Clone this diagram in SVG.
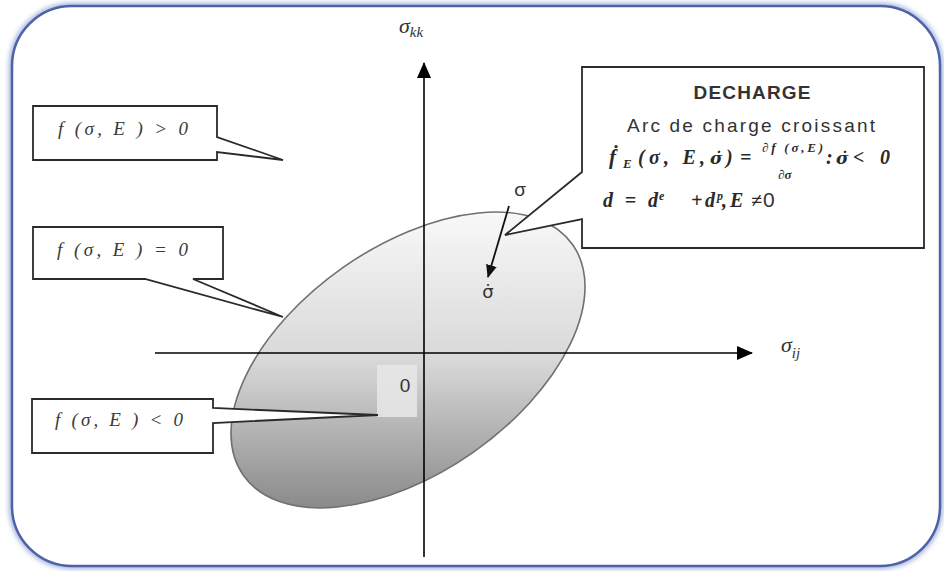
<svg xmlns="http://www.w3.org/2000/svg" width="944" height="571" viewBox="0 0 944 571">
<style>
.callout{fill:#ffffff;stroke:#2a2a2a;stroke-width:1.8;stroke-linejoin:miter}
.ct{font-family:"Liberation Serif",serif;font-style:italic;font-size:19px;fill:#3a3a3a}
.sans{font-family:"Liberation Sans",Arial,sans-serif;fill:#333}
.fm{font-family:"Liberation Serif",serif;font-style:italic;font-weight:bold;fill:#2a2a2a}
.dj{font-family:"DejaVu Serif",serif;font-style:italic;font-weight:bold;fill:#2a2a2a}
.ax{font-family:"Liberation Serif",serif;font-style:italic;fill:#333}
.axis{stroke:#000;stroke-width:1.6;fill:none}
</style>
<defs>
<linearGradient id="eg" gradientUnits="userSpaceOnUse" x1="0" y1="213" x2="0" y2="508">
<stop offset="0" stop-color="#f8f8f8"/>
<stop offset="0.5" stop-color="#d8d8d8"/>
<stop offset="1" stop-color="#8a8a8a"/>
</linearGradient>
<filter id="glow" x="-5%" y="-5%" width="110%" height="110%">
<feGaussianBlur stdDeviation="2.5"/>
</filter>
<marker id="ah" markerWidth="16" markerHeight="14" refX="15" refY="7" orient="auto" markerUnits="userSpaceOnUse">
<path d="M0,0 L16,7 L0,14 Z" fill="#000"/>
</marker>
<marker id="ahs" markerWidth="13" markerHeight="11" refX="12" refY="5.5" orient="auto" markerUnits="userSpaceOnUse">
<path d="M0,0 L13,5.5 L0,11 Z" fill="#111"/>
</marker>
</defs>

<g id="frame">
<rect x="12" y="6" width="928" height="560" rx="60" fill="none" stroke="#9fb0dc" stroke-width="6" filter="url(#glow)"/>
<rect x="12" y="6" width="928" height="560" rx="60" fill="#ffffff" stroke="#4f62a8" stroke-width="2.5"/>
</g>

<g id="ellipse">
<path d="M243.3,475.3 A201,113 -35 1 1 572.7,244.7 A201,113 -35 1 1 243.3,475.3 Z" fill="url(#eg)" stroke="#707070" stroke-width="1.6"/>
<rect x="377" y="365" width="40" height="52" fill="#e8e8e8" opacity="0.85"/>
<text x="405" y="392" class="sans" font-size="19" text-anchor="middle" fill="#3a3a3a">0</text>
</g>

<g id="connectors">
<line class="axis" x1="424" y1="557" x2="424" y2="63" marker-end="url(#ah)"/>
<line class="axis" x1="155" y1="353" x2="752" y2="353" marker-end="url(#ah)"/>
<line x1="509" y1="206" x2="488" y2="277" stroke="#111" stroke-width="1.8" marker-end="url(#ahs)"/>
</g>

<g id="axis-labels">
<text x="399" y="33" class="ax" font-size="22">σ<tspan font-size="15" dy="4">kk</tspan></text>
<text x="781" y="352" class="ax" font-size="22">σ<tspan font-size="15" dy="6">ij</tspan></text>
<text x="520" y="196" class="sans" font-size="19" text-anchor="middle">σ</text>
<text x="488" y="298" font-family="DejaVu Sans, sans-serif" font-size="18" fill="#333" text-anchor="middle">σ̇</text>
</g>

<g id="node-pos">
<path class="callout" d="M33,106 H217 V137 L283,160 L217,152 V160 H33 Z"/>
<text x="58" y="135" class="ct" textLength="130" lengthAdjust="spacing">f (σ, E ) &gt; 0</text>
</g>

<g id="node-zero">
<path class="callout" d="M33,227 H223 V279 H193 L283,317 L145,279 H33 Z"/>
<text x="57" y="256" class="ct" textLength="131" lengthAdjust="spacing">f (σ, E ) = 0</text>
</g>

<g id="node-neg">
<path class="callout" d="M32,399 H213 V408 L378,415 L213,423 V453 H32 Z"/>
<text x="55" y="426" class="ct" textLength="128" lengthAdjust="spacing">f (σ, E ) &lt; 0</text>
</g>

<g id="node-decharge">
<path class="callout" d="M582,67 H924 V248 H582 V219 L505,235 L582,172 Z"/>
<text x="752" y="99" class="sans" font-size="19" font-weight="bold" text-anchor="middle" textLength="117" lengthAdjust="spacing">DECHARGE</text>
<text x="627" y="132" class="sans" font-size="19" textLength="248" lengthAdjust="spacing">Arc de charge croissant</text>
<text x="609" y="164" class="fm" font-size="21">ḟ</text>
<text x="623" y="168" class="fm" font-size="13">E</text>
<text x="638" y="164" class="fm" font-size="20" textLength="67" lengthAdjust="spacing">(σ, E,</text>
<text x="710" y="164" class="dj" font-size="17">σ̇</text>
<text x="726" y="164" class="fm" font-size="20">)</text>
<text x="740" y="164" class="fm" font-size="20">=</text>
<text x="762" y="152" class="fm" font-size="13" textLength="61" lengthAdjust="spacing">∂f (σ,E)</text>
<text x="778" y="179" class="fm" font-size="13">∂σ</text>
<text x="826" y="164" class="fm" font-size="20">:</text>
<text x="836" y="164" class="dj" font-size="17">σ̇</text>
<text x="853" y="164" class="fm" font-size="20" textLength="37" lengthAdjust="spacing">&lt; 0</text>
<text x="603" y="207" class="fm" font-size="20" textLength="55" lengthAdjust="spacing">d = d</text>
<text x="659" y="200" class="fm" font-size="12">e</text>
<text x="691" y="207" class="fm" font-size="20">+</text>
<text x="705" y="207" class="fm" font-size="20">d</text>
<text x="717" y="200" class="fm" font-size="12">p</text>
<text x="722" y="207" class="fm" font-size="20">,</text>
<text x="730" y="207" class="fm" font-size="20" textLength="32" lengthAdjust="spacing">E≠</text>
<text x="763" y="207" class="sans" font-size="21" fill="#2a2a2a">0</text>
</g>
</svg>
